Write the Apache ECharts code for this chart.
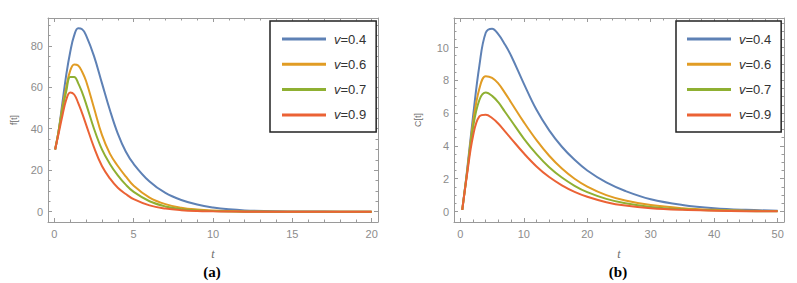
<!DOCTYPE html>
<html>
<head>
<meta charset="utf-8">
<script src="https://cdn.jsdelivr.net/npm/echarts@6/dist/echarts.min.js"></script>
<style>
html,body{margin:0;padding:0;background:#fff;}
#c{width:797px;height:283px;}
</style>
</head>
<body>
<div id="c"></div>
<script>
// ---------- Data ----------
const seriesNames = ['v=0.4', 'v=0.6', 'v=0.7', 'v=0.9'];

// Panel (a): f[t]
const tA = [0.05, 0.25, 0.5, 0.75, 1, 1.25, 1.5, 1.75, 2, 2.5, 3, 3.5, 4, 4.5, 5, 6, 7, 8, 9, 10, 11, 12, 14, 16, 18, 20];
const fA04 = [30, 38, 52, 66, 77, 85, 88.4, 88, 85, 75, 62, 49, 37.6, 29, 23, 14.5, 9, 5.6, 3.4, 2, 1.1, 0.6, 0.2, 0.05, 0, 0];
const fA06 = [30, 38, 50, 60, 68, 71, 70.5, 67.5, 63, 50, 37, 28, 22, 17, 12.5, 6.8, 3.6, 1.9, 1, 0.5, 0.25, 0.1, 0, 0, 0, 0];
const fA07 = [30, 38, 49, 58, 65, 65, 62, 57.5, 52, 40, 30, 23, 17.5, 13, 9.5, 5, 2.5, 1.2, 0.6, 0.3, 0.1, 0, 0, 0, 0, 0];
const fA09 = [30, 37, 46, 54, 57.5, 56.5, 52.5, 47.5, 42, 31, 22, 16, 11.5, 8.5, 6, 3, 1.5, 0.7, 0.3, 0.15, 0.05, 0, 0, 0, 0, 0];

// Panel (b): C[t]
const tB = [0.3, 1, 2, 3, 4, 5, 6, 7, 8, 10, 12, 14, 16, 18, 20, 23, 26, 30, 35, 40, 45, 50];
const cB04 = [0.1, 2.3, 5.8, 8.9, 10.9, 11.15, 10.8, 10.2, 9.5, 7.8, 6.2, 4.95, 3.95, 3.15, 2.5, 1.77, 1.25, 0.75, 0.4, 0.2, 0.1, 0.05];
const cB06 = [0.1, 2.2, 5.4, 7.5, 8.25, 8.15, 7.8, 7.25, 6.65, 5.45, 4.35, 3.4, 2.62, 2.0, 1.52, 1.0, 0.67, 0.39, 0.2, 0.1, 0.05, 0.025];
const cB07 = [0.1, 2.2, 5.1, 6.8, 7.25, 7.05, 6.65, 6.1, 5.55, 4.45, 3.5, 2.7, 2.07, 1.57, 1.18, 0.77, 0.5, 0.28, 0.14, 0.07, 0.03, 0.015];
const cB09 = [0.1, 2.1, 4.6, 5.8, 5.9, 5.7, 5.35, 4.9, 4.45, 3.55, 2.75, 2.1, 1.6, 1.2, 0.9, 0.57, 0.36, 0.2, 0.1, 0.05, 0.02, 0.01];

// Tick values
const xTicksA = [0, 5, 10, 15, 20];
const xMinorA = [1, 2, 3, 4, 6, 7, 8, 9, 11, 12, 13, 14, 16, 17, 18, 19];
const yTicksA = [0, 20, 40, 60, 80];
const yMinorA = [5, 10, 15, 25, 30, 35, 45, 50, 55, 65, 70, 75, 85, 90];
const xTicksB = [0, 10, 20, 30, 40, 50];
const xMinorB = [2, 4, 6, 8, 12, 14, 16, 18, 22, 24, 26, 28, 32, 34, 36, 38, 42, 44, 46, 48];
const yTicksB = [0, 2, 4, 6, 8, 10];
const yMinorB = [0.5, 1, 1.5, 2.5, 3, 3.5, 4.5, 5, 5.5, 6.5, 7, 7.5, 8.5, 9, 9.5, 10.5, 11, 11.5];

// ---------- Chart ----------
const colors = ['#5E81B5', '#E19C24', '#8FB032', '#EB6235'];
const frameColor = '#9a9a9a';
const labelColor = '#8c8c8c';

function zip(xs, ys) { return xs.map((x, i) => [x, ys[i]]); }

function makeAxes(kind, gridIndex, min, max, major, minor, name, nameGap) {
  const isX = kind === 'x';
  const posMain = isX ? 'bottom' : 'left';
  const posOpp = isX ? 'top' : 'right';
  const base = {
    type: 'value', gridIndex, min, max,
    splitLine: { show: false }
  };
  const axes = [];
  axes.push(Object.assign({}, base, {
    position: posMain,
    name: name,
    nameLocation: 'middle',
    nameGap: nameGap,
    nameRotate: isX ? 0 : 90,
    nameTextStyle: isX
      ? { fontStyle: 'italic', fontSize: 12, color: '#6a6a6a', fontFamily: 'Liberation Serif' }
      : { fontSize: 9, color: '#6a6a6a', fontFamily: 'Liberation Sans' },
    axisLine: { show: true, onZero: false, lineStyle: { color: frameColor, width: 1 } },
    axisTick: { show: true, inside: true, length: 4, customValues: major, lineStyle: { color: frameColor } },
    axisLabel: { show: true, customValues: major, color: labelColor, fontSize: 11, fontFamily: 'Liberation Sans', margin: isX ? 6 : 5 }
  }));
  axes.push(Object.assign({}, base, {
    position: posMain,
    axisLine: { show: false, onZero: false },
    axisTick: { show: true, inside: true, length: 2.5, customValues: minor, lineStyle: { color: frameColor } },
    axisLabel: { show: false }
  }));
  axes.push(Object.assign({}, base, {
    position: posOpp,
    axisLine: { show: true, onZero: false, lineStyle: { color: frameColor, width: 1 } },
    axisTick: { show: true, inside: true, length: 4, customValues: major, lineStyle: { color: frameColor } },
    axisLabel: { show: false }
  }));
  axes.push(Object.assign({}, base, {
    position: posOpp,
    axisLine: { show: false, onZero: false },
    axisTick: { show: true, inside: true, length: 2.5, customValues: minor, lineStyle: { color: frameColor } },
    axisLabel: { show: false }
  }));
  return axes;
}

const xAxes = [].concat(
  makeAxes('x', 0, -0.4, 20.4, xTicksA, xMinorA, 't', 26),
  makeAxes('x', 1, -1, 51, xTicksB, xMinorB, 't', 26)
);
const yAxes = [].concat(
  makeAxes('y', 0, -5, 93.4, yTicksA, yMinorA, 'f[t]', 30),
  makeAxes('y', 1, -0.64, 11.8, yTicksB, yMinorB, 'C[t]', 32)
);

const dataA = [fA04, fA06, fA07, fA09];
const dataB = [cB04, cB06, cB07, cB09];
const series = [];
dataA.forEach((ys, i) => series.push({
  name: seriesNames[i], type: 'line', xAxisIndex: 0, yAxisIndex: 0,
  data: zip(tA, ys), smooth: 0.4, showSymbol: false, symbol: 'none',
  lineStyle: { color: colors[i], width: 2 }, itemStyle: { color: colors[i] }, z: 3 + i
}));
dataB.forEach((ys, i) => series.push({
  name: seriesNames[i], type: 'line', xAxisIndex: 4, yAxisIndex: 4,
  data: zip(tB, ys), smooth: 0.4, showSymbol: false, symbol: 'none',
  lineStyle: { color: colors[i], width: 2 }, itemStyle: { color: colors[i] }, z: 3 + i
}));

function legendCfg(left, padLeft) {
  return {
    orient: 'vertical', left: left, top: 21,
    padding: [10, 10, 9, padLeft],
    itemGap: 9.3, itemWidth: 44, itemHeight: 3, icon: 'rect',
    backgroundColor: '#fff', borderColor: '#222', borderWidth: 1.5,
    data: seriesNames,
    formatter: function (n) { return '{i|v}' + n.slice(1); },
    textStyle: {
      fontSize: 13, color: '#333', fontFamily: 'Liberation Sans', lineHeight: 16, padding: [0, 0, 0, 3],
      rich: { i: { fontStyle: 'italic', fontSize: 13, fontFamily: 'Liberation Sans', color: '#333' } }
    },
    selectedMode: false, z: 10
  };
}

const chart = echarts.init(document.getElementById('c'), null, { renderer: 'svg' });
chart.setOption({
  animation: false,
  backgroundColor: '#fff',
  color: colors,
  grid: [
    { left: 48, top: 18, width: 330, height: 204 },
    { left: 454, top: 18, width: 330, height: 204 }
  ],
  xAxis: xAxes,
  yAxis: yAxes,
  legend: [legendCfg(270, 12), legendCfg(676, 11)],
  series: series,
  graphic: [
    { type: 'text', x: 212, y: 272, style: { text: '(a)', fill: '#000', font: 'bold 15px "Liberation Serif"', textAlign: 'center', textVerticalAlign: 'middle' } },
    { type: 'text', x: 618, y: 272, style: { text: '(b)', fill: '#000', font: 'bold 15px "Liberation Serif"', textAlign: 'center', textVerticalAlign: 'middle' } }
  ]
});
</script>
</body>
</html>
